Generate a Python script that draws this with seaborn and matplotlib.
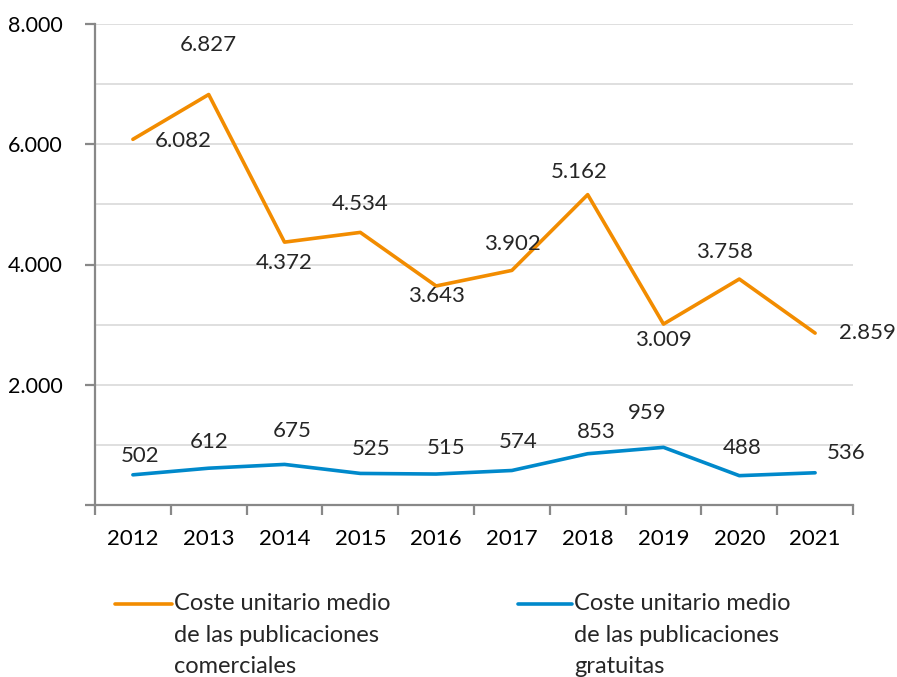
import numpy as np
import pandas as pd
import matplotlib
matplotlib.use('Agg')
import matplotlib.pyplot as plt
from matplotlib.lines import Line2D
from matplotlib.ticker import FixedLocator, FuncFormatter
import seaborn as sns

# datos
years = ['2012', '2013', '2014', '2015', '2016', '2017', '2018', '2019', '2020', '2021']
comerciales = [6082, 6827, 4372, 4534, 3643, 3902, 5162, 3009, 3758, 2859]
gratuitas = [502, 612, 675, 525, 515, 574, 853, 959, 488, 536]
label_com = 'Coste unitario medio\nde las publicaciones\ncomerciales'
label_gra = 'Coste unitario medio\nde las publicaciones\ngratuitas'

# desplazamiento de las etiquetas (pixeles)
off_com = [(50, -2), (0, 50), (0, -21), (0, 28), (0, -10), (0, 26), (-8, 23), (0, -16), (-15, 27), (52, 0)]
off_gra = [(7, 19), (0, 26), (8, 33), (11, 24), (10, 26), (6, 28), (9, 22), (-16, 34), (3, 28), (31, 20)]

c_orange = '#F28C00'
c_blue = '#0089CB'

df = pd.DataFrame({
    'year': years * 2,
    'coste': comerciales + gratuitas,
    'serie': ['com'] * len(years) + ['gra'] * len(years),
})

sns.set_style('white')
plt.rcParams['font.family'] = ['Lato', 'DejaVu Sans']

fig = plt.figure(figsize=(8.97, 6.77), dpi=100)
ax = fig.add_axes([95 / 897, 1 - 505 / 677, (853 - 95) / 897, (505 - 24) / 677])

sns.lineplot(data=df, x='year', y='coste', hue='serie', palette={'com': c_orange, 'gra': c_blue},
             linewidth=2.6, legend=False, ax=ax, sort=False)

ax.set_xlim(-0.5, len(years) - 0.5)
ax.set_ylim(0, 8000)
ax.set_xlabel('')
ax.set_ylabel('')

# ejes y rejilla
ax.yaxis.set_major_locator(FixedLocator([0, 2000, 4000, 6000, 8000]))
ax.yaxis.set_minor_locator(FixedLocator([1000, 3000, 5000, 7000]))
ax.yaxis.set_major_formatter(FuncFormatter(lambda v, p: '' if v == 0 else f'{int(v):,}'.replace(',', '.')))
ax.grid(True, which='both', axis='y', color='#D9D9D9', linewidth=1.2)
ax.set_axisbelow(True)
ax.xaxis.set_major_locator(FixedLocator(np.arange(len(years))))
ax.xaxis.set_minor_locator(FixedLocator(np.arange(len(years) + 1) - 0.5))
ax.set_xticks(np.arange(len(years)))
ax.set_xticklabels(years)

for s in ['top', 'right']:
    ax.spines[s].set_visible(False)
for s in ['left', 'bottom']:
    ax.spines[s].set_color('#888888')
    ax.spines[s].set_linewidth(1.6)

ax.tick_params(axis='y', which='major', left=True, length=7, width=1.6, color='#888888',
               labelsize=15.5, pad=16, labelcolor='black')
ax.tick_params(axis='y', which='minor', left=False)
ax.tick_params(axis='x', which='major', bottom=False, labelsize=16, pad=14, labelcolor='black')
ax.tick_params(axis='x', which='minor', bottom=True, length=7, width=1.6, color='#888888')

# etiquetas de datos
for i, y in enumerate(years):
    ax.annotate(f'{comerciales[i]:,}'.replace(',', '.'), (i, comerciales[i]), xytext=off_com[i],
                textcoords='offset pixels', ha='center', va='center', fontsize=16)
    ax.annotate(f'{gratuitas[i]:,}'.replace(',', '.'), (i, gratuitas[i]), xytext=off_gra[i],
                textcoords='offset pixels', ha='center', va='center', fontsize=16)

# leyenda
for x0, x1, col, lab in [(115, 172, c_orange, label_com), (518, 572, c_blue, label_gra)]:
    fig.add_artist(Line2D([x0 / 897, x1 / 897], [1 - 604 / 677] * 2, color=col, linewidth=2.6,
                          transform=fig.transFigure))
    fig.text((x1 + 2) / 897, 1 - 593 / 677, lab, fontsize=17, va='top', ha='left', linespacing=1.62)

fig.savefig('out.png', dpi=100)
